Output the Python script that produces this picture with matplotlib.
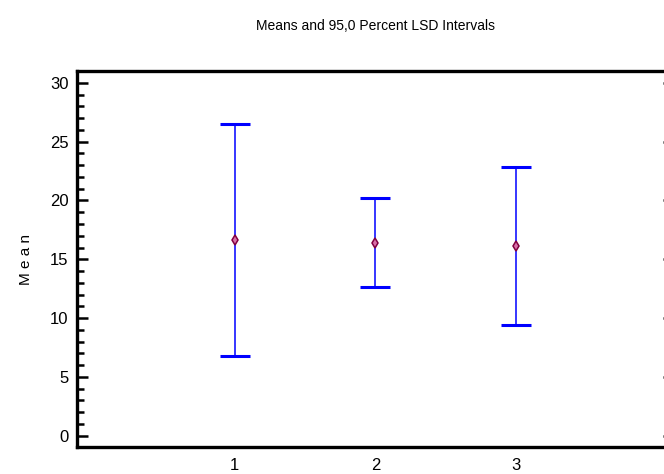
import matplotlib.pyplot as plt
from matplotlib.ticker import MultipleLocator
from matplotlib import font_manager

# group means with their 95% LSD interval limits
groups = ['1', '2', '3']
means = [16.6, 16.4, 16.1]
lower = [6.75, 12.63, 9.41]
upper = [26.48, 20.17, 22.83]

names = {f.name for f in font_manager.fontManager.ttflist}
family = 'Liberation Sans Narrow' if 'Liberation Sans Narrow' in names else 'Liberation Sans'
plt.rcParams['font.family'] = [family, 'DejaVu Sans']

fig = plt.figure(figsize=(6.64, 4.74), dpi=100)
ax = fig.add_axes([0.116, 0.057, 0.899, 0.793])

x = [1, 2, 3]
yerr = [[m - lo for m, lo in zip(means, lower)],
        [hi - m for m, hi in zip(means, upper)]]
ax.errorbar(x, means, yerr=yerr, fmt='none', ecolor='#0000ff',
            elinewidth=1.1, capsize=10.5, capthick=2.2)
ax.plot(x, means, linestyle='none', marker='d', markersize=5,
        markerfacecolor='#d870a8', markeredgecolor='#800040', markeredgewidth=1.1)

ax.set_xlim(-0.12, 4.12)
ax.set_ylim(-0.96, 31.0)
ax.set_xticks(x)
ax.set_xticklabels(groups)
ax.yaxis.set_major_locator(MultipleLocator(5))
ax.yaxis.set_minor_locator(MultipleLocator(1))

for side in ['top', 'bottom', 'left', 'right']:
    ax.spines[side].set_linewidth(2.4)

ax.tick_params(axis='y', which='major', direction='in', length=8, width=1.8,
               right=True, labelsize=12, pad=6)
ax.tick_params(axis='y', which='minor', direction='in', length=5, width=1.8,
               right=False)
ax.tick_params(axis='x', length=0, labelsize=12, pad=8)

ax.set_ylabel('M e a n', fontsize=11, labelpad=12)
fig.text(0.565, 0.945, 'Means and 95,0 Percent LSD Intervals',
         ha='center', va='center', fontsize=10)

fig.savefig('out.png', dpi=100)
